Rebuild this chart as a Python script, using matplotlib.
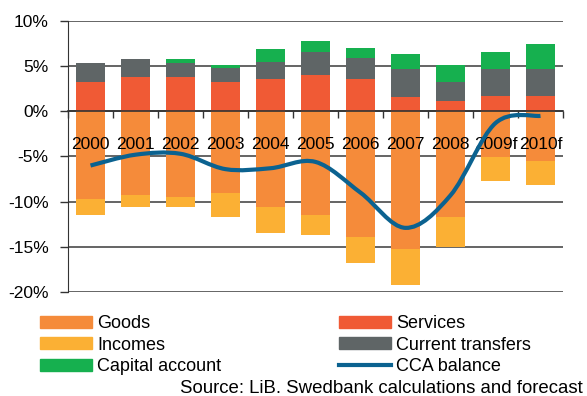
import numpy as np
import matplotlib.pyplot as plt
from matplotlib.path import Path
from matplotlib.patches import PathPatch, Patch
from matplotlib.lines import Line2D

plt.rcParams['font.family'] = ['Liberation Sans', 'DejaVu Sans']

years = ['2000', '2001', '2002', '2003', '2004', '2005',
         '2006', '2007', '2008', '2009f', '2010f']

# balance components, % of GDP
goods = [-9.7, -9.3, -9.5, -9.05, -10.6, -11.5, -13.9, -15.25, -11.7, -5.1, -5.5]
incomes = [-1.8, -1.3, -1.1, -2.65, -2.9, -2.2, -2.9, -3.95, -3.3, -2.65, -2.7]
services = [3.3, 3.75, 3.75, 3.3, 3.55, 4.0, 3.55, 1.55, 1.1, 1.75, 1.75]
transfers = [2.0, 2.0, 1.55, 1.55, 1.95, 2.6, 2.4, 3.1, 2.2, 2.9, 2.9]
capital = [0.0, 0.0, 0.45, 0.25, 1.35, 1.15, 1.1, 1.75, 1.8, 1.95, 2.85]
cca = [-6.0, -4.8, -4.7, -6.4, -6.3, -5.6, -9.0, -12.9, -9.3, -1.3, -0.5]

c_goods = '#f58b3a'
c_incomes = '#fbb034'
c_services = '#f05a35'
c_transfers = '#5f6566'
c_capital = '#16b04f'
c_line = '#0b6290'


def smooth_path(xs, ys):
    # cubic bezier through every point, spreadsheet-style smoothing
    pts = np.column_stack([xs, ys]).astype(float)
    n = len(pts)
    verts = [pts[0]]
    codes = [Path.MOVETO]
    for i in range(n - 1):
        p0 = pts[i - 1] if i > 0 else pts[i]
        p1 = pts[i]
        p2 = pts[i + 1]
        p3 = pts[i + 2] if i + 2 < n else pts[i + 1]
        verts += [p1 + (p2 - p0) / 6, p2 - (p3 - p1) / 6, p2]
        codes += [Path.CURVE4] * 3
    return Path(verts, codes)


fig = plt.figure(figsize=(5.87, 3.96), dpi=100)
ax = fig.add_axes([68 / 587, 1 - 292 / 396, 495 / 587, 271 / 396])

x = np.arange(len(years))
w = 0.66

services_arr = np.array(services)
transfers_arr = np.array(transfers)
ax.bar(x, goods, w, color=c_goods, zorder=1)
ax.bar(x, incomes, w, bottom=goods, color=c_incomes, zorder=1)
ax.bar(x, services, w, color=c_services, zorder=1)
ax.bar(x, transfers, w, bottom=services_arr, color=c_transfers, zorder=1)
ax.bar(x, capital, w, bottom=services_arr + transfers_arr, color=c_capital, zorder=1)

ax.add_patch(PathPatch(smooth_path(x, cca), fill=False, edgecolor=c_line,
                       lw=3, capstyle='butt', zorder=4))

ax.set_xlim(-0.5, len(years) - 0.5)
ax.set_ylim(-20, 10)
ax.set_yticks(np.arange(-20, 11, 5))
ax.set_yticklabels([f'{v}%' for v in range(-20, 11, 5)], fontsize=12.5)
ax.tick_params(axis='y', length=6, width=1, color='#333333', pad=8)

ax.set_axisbelow(True)
ax.yaxis.grid(True, color='#3a3a3a', lw=1.1)

for side in ['top', 'right']:
    ax.spines[side].set_visible(False)
ax.spines['left'].set_color('#333333')
ax.spines['bottom'].set_position(('data', 0))
ax.spines['bottom'].set_color('#333333')
ax.spines['bottom'].set_linewidth(1.2)
ax.spines['bottom'].set_zorder(3)

# tick marks on the category boundaries, year labels sit on top of the bars
ax.set_xticks(np.arange(-0.5, len(years), 1.0))
ax.set_xticklabels([])
ax.tick_params(axis='x', direction='out', length=5, width=1, color='#333333')
for xi, label in zip(x, years):
    ax.text(xi, -4.13, label, ha='center', va='baseline', fontsize=12.5,
            zorder=3.5)

handles = [
    Patch(color=c_goods, label='Goods'),
    Patch(color=c_incomes, label='Incomes'),
    Patch(color=c_capital, label='Capital account'),
    Patch(color=c_services, label='Services'),
    Patch(color=c_transfers, label='Current transfers'),
    Line2D([], [], color=c_line, lw=3, label='CCA balance'),
]
fig.legend(handles=handles, ncol=2, loc='upper left',
           bbox_to_anchor=(40 / 587, 1 - 315 / 396), frameon=False,
           fontsize=13, handlelength=2.9, handleheight=0.66,
           handletextpad=0.28, labelspacing=0.26, columnspacing=6.5,
           borderpad=0, borderaxespad=0)

fig.text(583 / 587, 1 - 393 / 396, 'Source: LiB. Swedbank calculations and forecast',
         ha='right', va='baseline', fontsize=13.4)

fig.savefig('out.png', dpi=100)
